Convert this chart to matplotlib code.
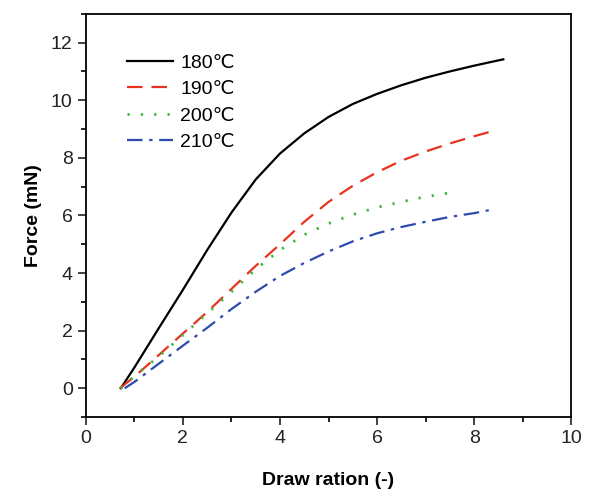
import numpy as np
import matplotlib
matplotlib.use("Agg")
import matplotlib.pyplot as plt
from matplotlib.ticker import MultipleLocator

plt.rcParams['font.family'] = ['Liberation Sans', 'DejaVu Sans']

# 180 C
x180 = [0.72, 1.0, 1.5, 2.0, 2.5, 3.0, 3.5, 4.0, 4.5, 5.0, 5.5, 6.0, 6.5, 7.0, 7.5, 8.0, 8.6]
y180 = [0.0, 0.72, 2.08, 3.42, 4.8, 6.1, 7.25, 8.15, 8.85, 9.42, 9.87, 10.22, 10.52, 10.78, 11.0, 11.2, 11.42]
# 190 C
x190 = [0.7, 1.0, 1.5, 2.0, 2.5, 3.0, 3.5, 4.0, 4.5, 5.0, 5.5, 6.0, 6.5, 7.0, 7.5, 8.0, 8.45]
y190 = [0.0, 0.4, 1.15, 1.9, 2.65, 3.45, 4.25, 5.0, 5.78, 6.47, 7.03, 7.5, 7.9, 8.22, 8.5, 8.75, 8.96]
# 200 C
x200 = [0.72, 1.0, 1.5, 2.0, 2.5, 3.0, 3.5, 4.0, 4.5, 5.0, 5.5, 6.0, 6.5, 7.0, 7.64]
y200 = [0.0, 0.42, 1.1, 1.85, 2.6, 3.35, 4.13, 4.8, 5.33, 5.72, 6.03, 6.28, 6.47, 6.65, 6.82]
# 210 C
x210 = [0.8, 1.0, 1.5, 2.0, 2.5, 3.0, 3.5, 4.0, 4.5, 5.0, 5.5, 6.0, 6.5, 7.0, 7.5, 8.0, 8.3]
y210 = [0.0, 0.22, 0.85, 1.48, 2.1, 2.75, 3.35, 3.9, 4.35, 4.75, 5.1, 5.38, 5.6, 5.78, 5.95, 6.08, 6.18]

fig = plt.figure(figsize=(5.92, 4.93), dpi=100)
ax = fig.add_axes([0.145, 0.154, 0.82, 0.818])

ax.plot(x180, y180, color="black", lw=1.6, label="180℃")
ax.plot(x190, y190, color="#e8341f", lw=1.6, linestyle=(0, (7, 4)), label="190℃")
ax.plot(x200, y200, color="#3cb83c", lw=2.0, linestyle=(0, (0.8, 4)), label="200℃")
ax.plot(x210, y210, color="#2e4bb0", lw=1.6, linestyle=(0, (7, 3, 1.5, 3)), label="210℃")

ax.set_xlim(0, 10)
ax.set_ylim(-1, 13)
ax.xaxis.set_major_locator(MultipleLocator(2))
ax.xaxis.set_minor_locator(MultipleLocator(1))
ax.yaxis.set_major_locator(MultipleLocator(2))
ax.yaxis.set_minor_locator(MultipleLocator(1))
ax.tick_params(which="major", direction="out", length=6, width=1.2, labelsize=14, colors="#222222")
ax.tick_params(which="minor", direction="out", length=3.5, width=1.2)
for s in ax.spines.values():
    s.set_linewidth(1.3)

ax.set_xlabel("Draw ration (-)", fontsize=14, fontweight="bold", labelpad=17.5)
ax.set_ylabel("Force (mN)", fontsize=14, fontweight="bold", labelpad=6.5)

ax.legend(loc="upper left", frameon=False, fontsize=14, handlelength=2.4,
          handletextpad=0.35, labelspacing=0.45, bbox_to_anchor=(0.048, 0.943))

fig.savefig("out.png", dpi=100)
